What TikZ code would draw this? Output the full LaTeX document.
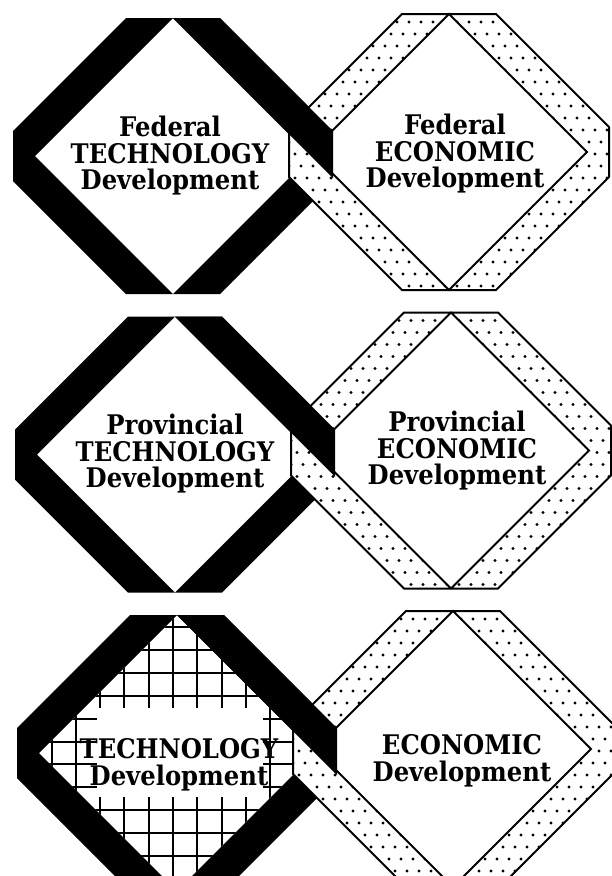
\documentclass[tikz,border=0pt]{standalone}
\usepackage{fontspec}
\newfontfamily\signfont{DejaVu Serif}[FakeStretch=0.9]

% ring outline and its hole, centred on the origin (y grows downwards)
\newcommand{\outeroct}{(-47,-138) -- (47,-138) -- (160,-25) -- (160,25) -- (47,138) -- (-47,138) -- (-160,25) -- (-160,-25) -- cycle}
\newcommand{\innerdiamond}{(0,-138) -- (138,0) -- (0,138) -- (-138,0) -- cycle}

\begin{document}
\begin{tikzpicture}[
x=1pt, y=-1pt,
band/.style={fill=black, even odd rule},
ribbon/.style={draw=black, line width=2pt},
gridline/.style={line width=2pt},
sign/.style={align=center, inner sep=0pt, font=\signfont\bfseries\fontsize{27}{26.5}\selectfont}
]
\useasboundingbox (0,0) rectangle (612,876);
\fill[white] (0,0) rectangle (612,876);
\clip (0,0) rectangle (612,876);

\foreach \row/\bx/\dx in {0/173/449, 1/175/451, 2/177/453} {
	\pgfmathsetmacro{\by}{156+298.5*\row}
	\pgfmathsetmacro{\dy}{\by-4}
	% black ring
	\fill[band, shift={(\bx,\by)}] \outeroct \innerdiamond;
	% squared paper inside the last black ring
	\ifnum\row=2
	\begin{scope}[shift={(\bx,\by)}]
		\clip \innerdiamond;
		\foreach \gx in {-6,...,6}
			\draw[gridline] (\gx*24.3-4, -140) -- ++(0,280);
		\foreach \gy in {0,...,11}
			\draw[gridline] (-140, \gy*22.9-126) -- ++(280,0);
		\fill[white] (-80,-45) rectangle (86,44);
	\end{scope}
	\fi
	% dotted ring
	\begin{scope}[shift={(\dx,\dy)}]
		\begin{scope}
			\clip \outeroct;
			\fill[white] \outeroct;
			\foreach \j [evaluate=\j as \off using {mod(\j,2)*6}] in {0,...,24}
				\foreach \i in {0,...,27}
					\fill (\i*12-166+\off, \j*12-142) circle (1.6);
		\end{scope}
		\fill[white] \innerdiamond;
		\draw[ribbon] \outeroct \innerdiamond;
	\end{scope}
	% black ring goes back over the dotted one above the joint
	\begin{scope}[shift={(\bx,\by)}]
		\clip (-112,-250) -- (388,250) -- (388,-250) -- cycle;
		\fill[band] \outeroct \innerdiamond;
	\end{scope}
}

\node[sign] (fedtech) at (170,156) {Federal\\TECHNOLOGY\\Development};
\node[sign] (fedecon) at (455,154) {Federal\\ECONOMIC\\Development};
\node[sign] (provtech) at (175,454) {Provincial\\TECHNOLOGY\\Development};
\node[sign] (provecon) at (457,451) {Provincial\\ECONOMIC\\Development};
\node[sign] (tech) at (179,765) {TECHNOLOGY\\Development};
\node[sign] (econ) at (462,761) {ECONOMIC\\Development};
\end{tikzpicture}
\end{document}
